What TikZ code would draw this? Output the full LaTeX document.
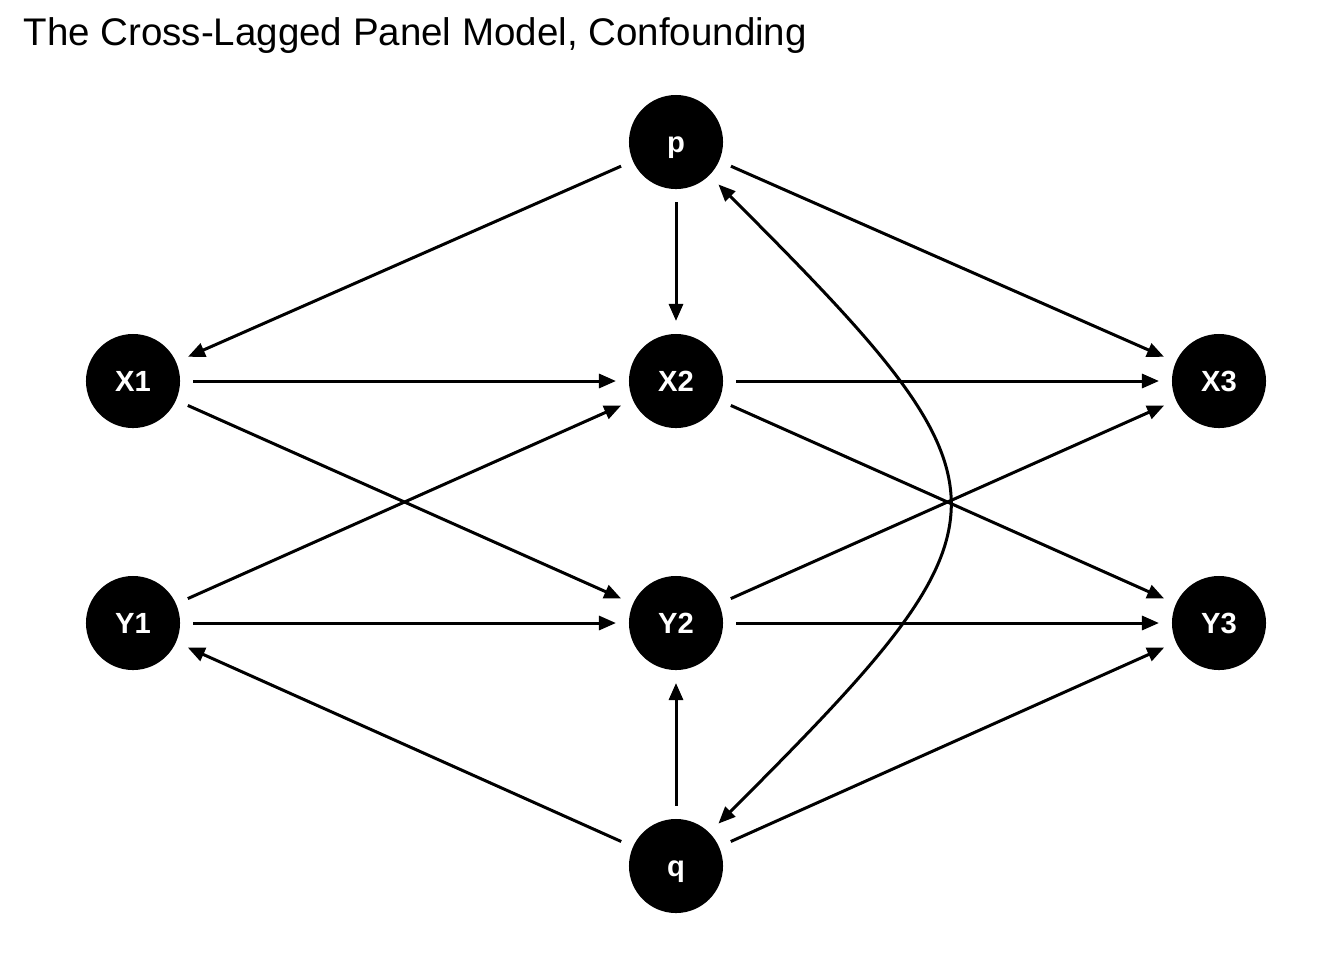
\documentclass[tikz,border=0pt]{standalone}
\usepackage{fontspec}
\setmainfont{Liberation Sans}
\usetikzlibrary{arrows.meta}

\newcommand{\pxscl}{0.01}
\newcommand{\gapscl}{0.13}
\newcommand{\vn}{\node[circle, fill=black, text=white, font=\bfseries\fontsize{8.3}{10}\selectfont, text height=0.21cm, text depth=0pt, minimum size=0.94cm, inner sep=0pt, outer sep=\gapscl cm]}
\newcommand{\coordpx}[1] {#1*\pxscl}

\begin{document}
\begin{tikzpicture}[>={Triangle[length=0.17cm, width=0.14cm]}, line width=0.03cm]
            \useasboundingbox (0, 0) rectangle (\coordpx{1344}, \coordpx{-960});

            \node[anchor=base west, inner sep=0pt, font=\fontsize{10.95}{13}\selectfont] (title)
                at (\coordpx{22}, \coordpx{-45}) {The Cross-Lagged Panel Model, Confounding};

            \vn (p) at (\coordpx{676}, \coordpx{-142}) {p};
            \vn (X1) at (\coordpx{133}, \coordpx{-381}) {X1};
            \vn (X2) at (\coordpx{676}, \coordpx{-381}) {X2};
            \vn (X3) at (\coordpx{1219}, \coordpx{-381}) {X3};
            \vn (Y1) at (\coordpx{133}, \coordpx{-623}) {Y1};
            \vn (Y2) at (\coordpx{676}, \coordpx{-623}) {Y2};
            \vn (Y3) at (\coordpx{1219}, \coordpx{-623}) {Y3};
            \vn (q) at (\coordpx{676}, \coordpx{-866}) {q};

            \foreach \a/\b in {p/X1, p/X2, p/X3,
                               X1/X2, X1/Y2, Y1/X2, Y1/Y2,
                               X2/X3, X2/Y3, Y2/X3, Y2/Y3,
                               q/Y1, q/Y2, q/Y3}
                \draw[->] (\a) -- (\b);

            \draw[<->]
                (p) to[out=-45, in=45, looseness=1.74] (q);
        \end{tikzpicture}
\end{document}
